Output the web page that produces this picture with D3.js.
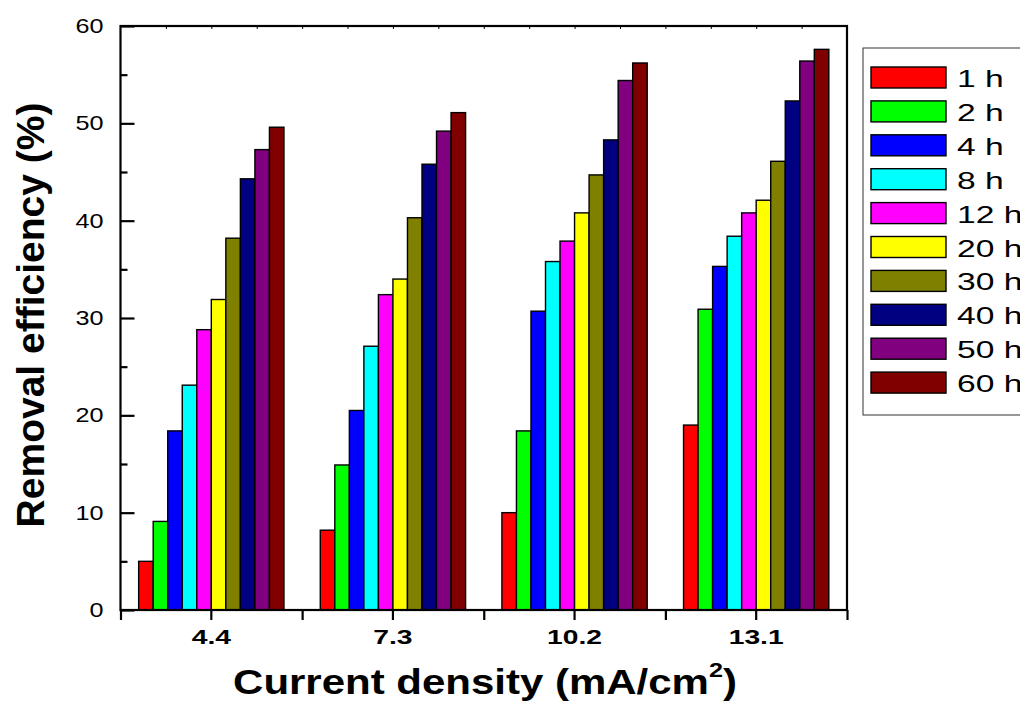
<!DOCTYPE html>
<html>
<head>
<meta charset="utf-8">
<script src="https://cdn.jsdelivr.net/npm/d3@7"></script>
<style>
  body { margin: 0; background: #fff; }
  svg text { font-family: Arial, "Liberation Sans", sans-serif; }
</style>
</head>
<body>
<div id="chart"></div>
<script>
// current density categories (mA/cm2)
const densities = ["4.4", "7.3", "10.2", "13.1"];
// electrolysis time series
const times = ["1 h", "2 h", "4 h", "8 h", "12 h", "20 h", "30 h", "40 h", "50 h", "60 h"];
const colors = ["#ff0000", "#00ff00", "#0000ff", "#00ffff", "#ff00ff", "#ffff00", "#808000", "#000080", "#800080", "#800000"];
// removal efficiency (%) per time, one value per density
const eff1h  = [5.0, 8.2, 10.0, 19.0];
const eff2h  = [9.1, 14.9, 18.4, 30.9];
const eff4h  = [18.4, 20.5, 30.7, 35.3];
const eff8h  = [23.1, 27.1, 35.8, 38.4];
const eff12h = [28.8, 32.4, 37.9, 40.8];
const eff20h = [31.9, 34.0, 40.8, 42.1];
const eff30h = [38.2, 40.3, 44.7, 46.1];
const eff40h = [44.3, 45.8, 48.3, 52.3];
const eff50h = [47.3, 49.2, 54.4, 56.4];
const eff60h = [49.6, 51.1, 56.2, 57.6];
const yTicks = [0, 10, 20, 30, 40, 50, 60];

const series = [eff1h, eff2h, eff4h, eff8h, eff12h, eff20h, eff30h, eff40h, eff50h, eff60h];

const W = 1020, H = 702;
const mLeft = 120.5, mRight = 847, mTop = 26, mBottom = 610;

const svg = d3.select("#chart").append("svg")
   .attr("width", W)
   .attr("height", H);

const x0 = d3.scaleBand()
   .domain(densities)
   .range([mLeft, mRight]);
const bw = x0.bandwidth();
const x1 = d3.scaleBand()
   .domain(times)
   .range([bw * 0.1, bw * 0.9]);
const y = d3.scaleLinear()
   .domain([0, 60])
   .range([mBottom, mTop]);

// bars
densities.forEach((d, j) => {
   const g = svg.append("g").attr("transform", "translate(" + x0(d) + ",0)");
   g.selectAll("rect")
      .data(times)
      .enter()
      .append("rect")
      .attr("x", t => x1(t))
      .attr("y", (t, i) => y(series[i][j]))
      .attr("width", x1.bandwidth())
      .attr("height", (t, i) => mBottom - y(series[i][j]))
      .attr("fill", (t, i) => colors[i])
      .attr("stroke", "#000")
      .attr("stroke-width", 1.4);
});

// frame
svg.append("rect")
   .attr("x", mLeft)
   .attr("y", mTop)
   .attr("width", mRight - mLeft)
   .attr("height", mBottom - mTop)
   .attr("fill", "none")
   .attr("stroke", "#000")
   .attr("stroke-width", 2.2);

// top minor ticks (inward, faint)
const xq = d3.scaleLinear().domain([0, 16]).range([mLeft, mRight]);
svg.append("g")
   .attr("transform", "translate(0," + mTop + ")")
   .call(d3.axisTop(xq).tickValues(d3.range(1, 16)).tickSize(-3).tickFormat(""))
   .call(g => g.select(".domain").remove())
   .selectAll("line").attr("stroke-width", 1);

// x axis: labels at band centres
const xAxis = d3.axisBottom(x0).tickSize(10).tickPadding(10);
const gx = svg.append("g")
   .attr("transform", "translate(0," + mBottom + ")")
   .call(xAxis);
gx.select(".domain").remove();
gx.selectAll("line").attr("stroke", "#000").attr("stroke-width", 2.2);
gx.selectAll("text")
   .attr("fill", "#000")
   .attr("transform", "scale(1.45,1)")
   .style("font-size", "19.5px")
   .style("font-weight", "bold");

// x axis: boundary ticks
const xb = d3.scaleLinear().domain([0, 4]).range([mLeft, mRight]);
svg.append("g")
   .attr("transform", "translate(0," + mBottom + ")")
   .call(d3.axisBottom(xb).ticks(4).tickSize(10).tickFormat(""))
   .call(g => g.select(".domain").remove())
   .selectAll("line").attr("stroke", "#000").attr("stroke-width", 2.2);

// y axis major
const gy = svg.append("g")
   .attr("transform", "translate(" + mLeft + ",0)")
   .call(d3.axisLeft(y).tickValues(yTicks).tickSize(-14).tickPadding(17));
gy.select(".domain").remove();
gy.selectAll("line").attr("stroke", "#000").attr("stroke-width", 2.2);
gy.selectAll("text")
   .attr("fill", "#000")
   .attr("x", 0)
   .attr("transform", "translate(-17,0) scale(1.26,1)")
   .style("font-size", "20px");

// y axis minor
svg.append("g")
   .attr("transform", "translate(" + mLeft + ",0)")
   .call(d3.axisLeft(y).tickValues([5, 15, 25, 35, 45, 55]).tickSize(-7).tickFormat(""))
   .call(g => g.select(".domain").remove())
   .selectAll("line").attr("stroke", "#000").attr("stroke-width", 2.2);

// axis titles
const xt = svg.append("text")
   .attr("transform", "translate(485,694) scale(1.2,1)")
   .attr("text-anchor", "middle")
   .style("font-size", "35px")
   .style("font-weight", "bold")
   .text("Current density (mA/cm");
xt.append("tspan").attr("dy", -17).style("font-size", "21px").text("2");
xt.append("tspan").attr("dy", 17).text(")");

svg.append("text")
   .attr("transform", "translate(44,315) rotate(-90)")
   .attr("text-anchor", "middle")
   .style("font-size", "39px")
   .style("font-weight", "bold")
   .text("Removal efficiency (%)");

// legend
const lg = svg.append("g").attr("transform", "translate(863,48)");
lg.append("rect")
   .attr("width", 200)
   .attr("height", 367)
   .attr("fill", "#fff")
   .attr("stroke", "#333")
   .attr("stroke-width", 1);
const items = lg.selectAll("g.item")
   .data(times)
   .enter()
   .append("g")
   .attr("class", "item")
   .attr("transform", (t, i) => "translate(8," + (19 + i * 33.9) + ")");
items.append("rect")
   .attr("width", 75)
   .attr("height", 21)
   .attr("fill", (t, i) => colors[i])
   .attr("stroke", "#000")
   .attr("stroke-width", 1.4);
items.append("text")
   .attr("transform", "translate(86,20) scale(1.4,1)")
   .style("font-size", "24px")
   .attr("fill", "#000")
   .text(t => t);
</script>
</body>
</html>
